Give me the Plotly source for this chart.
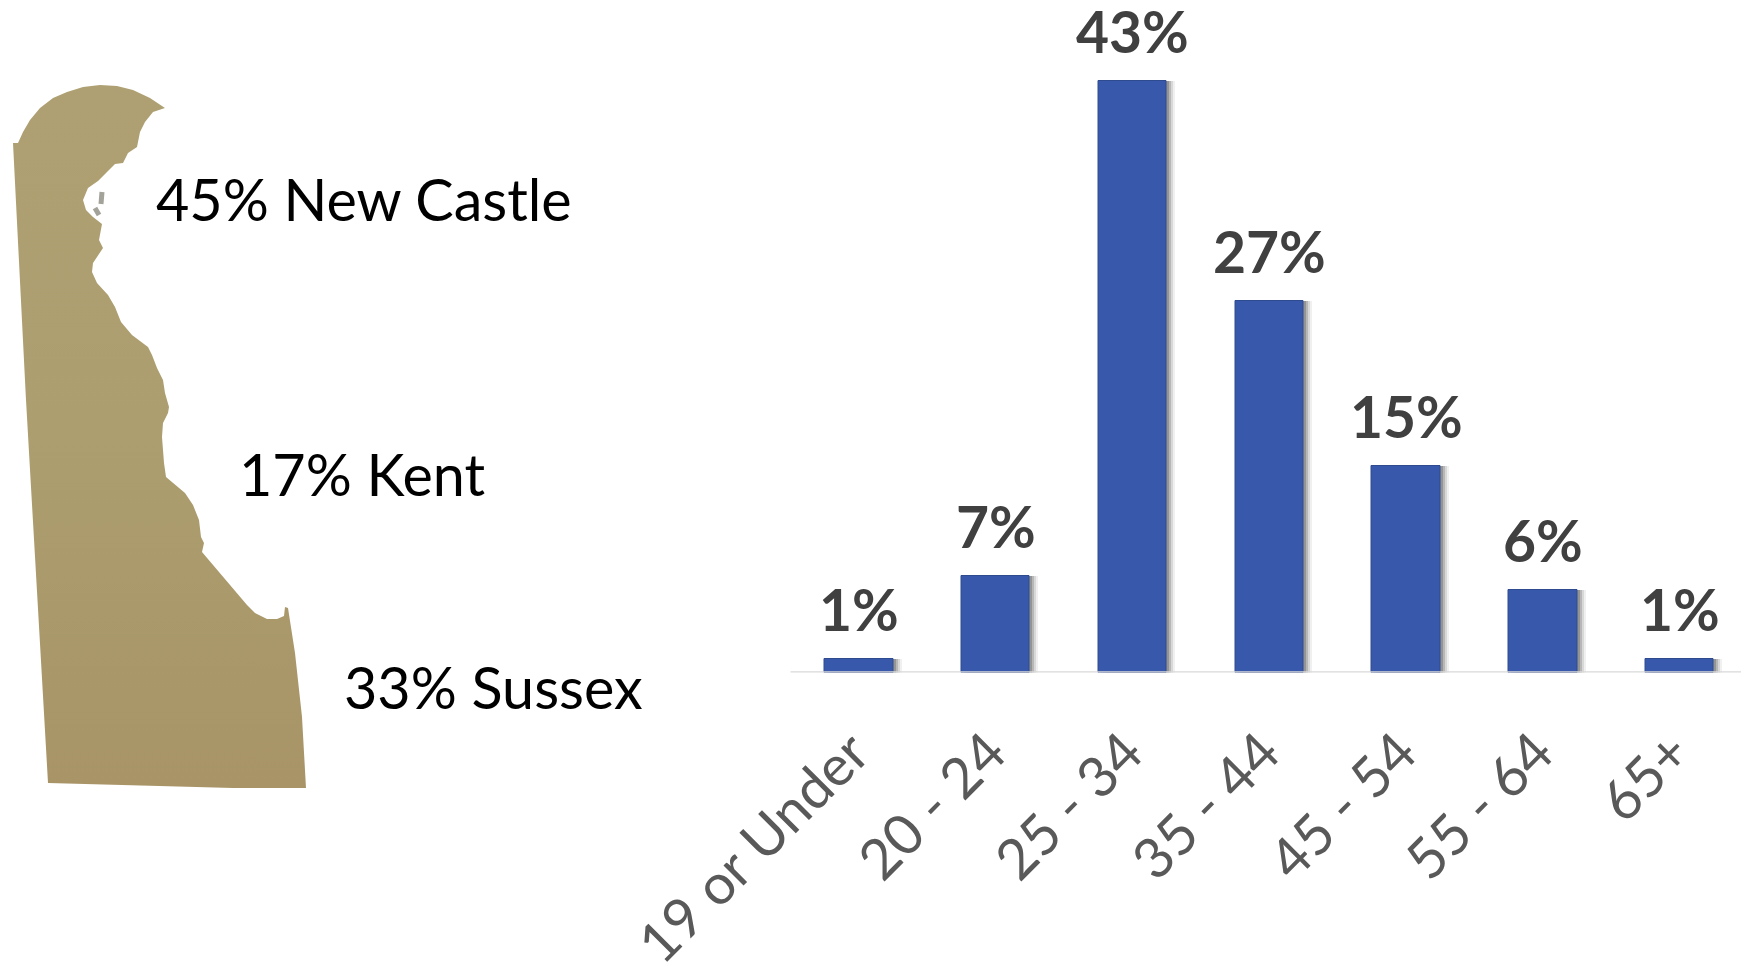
import plotly.graph_objects as go

age_groups = ["19 or Under", "20 - 24", "25 - 34", "35 - 44", "45 - 54", "55 - 64", "65+"]
age_share = [1, 7, 43, 27, 15, 6, 1]

county_labels = ["45% New Castle", "17% Kent", "33% Sussex"]
county_label_x = [154, 237, 342]
county_label_y = [198, 473, 686]

map_x = [13, 18, 23, 30, 40, 53, 67, 83, 100, 117, 133, 150, 165, 153, 145, 140, 137, 132, 128, 123, 115, 107, 98, 88, 83,
         86, 93, 102, 99, 103, 98, 93, 92, 97, 108, 115, 121, 132, 148, 152, 157, 163, 165, 169, 168, 163, 162, 164, 166,
         175, 185, 193, 199, 201, 204, 202, 217, 232, 247, 255, 267, 277, 284, 285, 288, 295, 302, 306, 233, 48, 26, 13]
map_y = [143, 143, 132, 120, 108, 98, 92, 87, 85, 86, 90, 98, 108, 112, 122, 132, 147, 150, 153, 163, 164, 172, 181, 188, 200,
         210, 217, 224, 240, 248, 255, 263, 272, 283, 295, 307, 322, 335, 347, 355, 368, 380, 393, 407, 413, 423, 437, 463, 477,
         485, 493, 505, 520, 537, 543, 552, 570, 588, 605, 613, 619, 619, 616, 607, 608, 653, 717, 788, 788, 783, 400, 143]
speck_a_x = [102, 101]
speck_a_y = [192, 204]
speck_b_x = [95, 99]
speck_b_y = [208, 215]

W, H = 1741, 973
BASE = 672.5
PX_PER_PCT = 13.76
PITCH = 136.8
X0 = 790.5
bar_w = 68.5 / PITCH

fig = go.Figure()

for dx, op in [(8, 0.08), (6, 0.14), (4, 0.22), (2, 0.3)]:
    fig.add_trace(go.Bar(x=age_groups, y=age_share, width=bar_w, offset=-bar_w / 2 + dx / PITCH,
                         marker=dict(color=f"rgba(70,70,70,{op})", line=dict(width=0)),
                         hoverinfo="skip", showlegend=False))
fig.add_trace(go.Bar(x=age_groups, y=age_share, width=bar_w, offset=-bar_w / 2,
                     marker=dict(color="#3859AB", line=dict(color="#2F4B8F", width=1)), showlegend=False))

fig.add_trace(go.Scatter(x=map_x, y=map_y, xaxis="x2", yaxis="y2", mode="lines", line=dict(width=0),
                         fill="toself", showlegend=False, hoverinfo="skip",
                         fillgradient=dict(type="vertical",
                                           colorscale=[[0, "#A89467"], [0.5, "#AC9E6F"], [1, "#AEA072"]])))
for sx, sy in [(speck_a_x, speck_a_y), (speck_b_x, speck_b_y)]:
    fig.add_trace(go.Scatter(x=sx, y=sy, xaxis="x2", yaxis="y2", mode="lines",
                             line=dict(color="#A3A39A", width=5), showlegend=False, hoverinfo="skip"))

annotations = []
for g, v in zip(age_groups, age_share):
    annotations.append(dict(x=g, y=v, xref="x", yref="y", text=f"{v}%", showarrow=False, yanchor="middle",
                            yshift=50, height=60,
                            font=dict(family="Lato", size=57, color="#404040", weight="bold")))
for t, x, y in zip(county_labels, county_label_x, county_label_y):
    annotations.append(dict(x=x, y=y, xref="x2", yref="y2", text=t, showarrow=False, xanchor="left",
                            yanchor="middle", font=dict(family="Lato", size=57.5, color="#000000")))

fig.update_layout(
    width=W, height=H, margin=dict(l=0, r=0, t=0, b=0, autoexpand=False), autosize=False,
    paper_bgcolor="white", plot_bgcolor="rgba(0,0,0,0)", barmode="overlay", bargap=0,
    annotations=annotations,
    xaxis=dict(domain=[X0 / W, 1], type="category", categoryorder="array", categoryarray=age_groups,
               range=[-0.5, (W - X0) / PITCH - 0.5], showgrid=False, zeroline=False, automargin=False,
               showline=False, ticks="", tickangle=-45, ticklabelstandoff=35, ticklabelshift=-6,
               tickfont=dict(family="Lato", size=56, color="#595959")),
    yaxis=dict(domain=[1 - BASE / H, 1], range=[0, BASE / PX_PER_PCT], visible=False, automargin=False),
    xaxis2=dict(domain=[0, 1], range=[0, W], visible=False, anchor="y2", automargin=False),
    yaxis2=dict(domain=[0, 1], range=[H, 0], visible=False, anchor="x2", automargin=False),
    shapes=[dict(type="line", xref="x domain", yref="y", x0=0, x1=1, y0=0, y1=0,
                 line=dict(color="#D9D9D9", width=2.5))],
)

fig.write_html("out.html", config=dict(displayModeBar=False),
               post_script="document.body.style.margin='0';document.documentElement.style.overflow='hidden';")
